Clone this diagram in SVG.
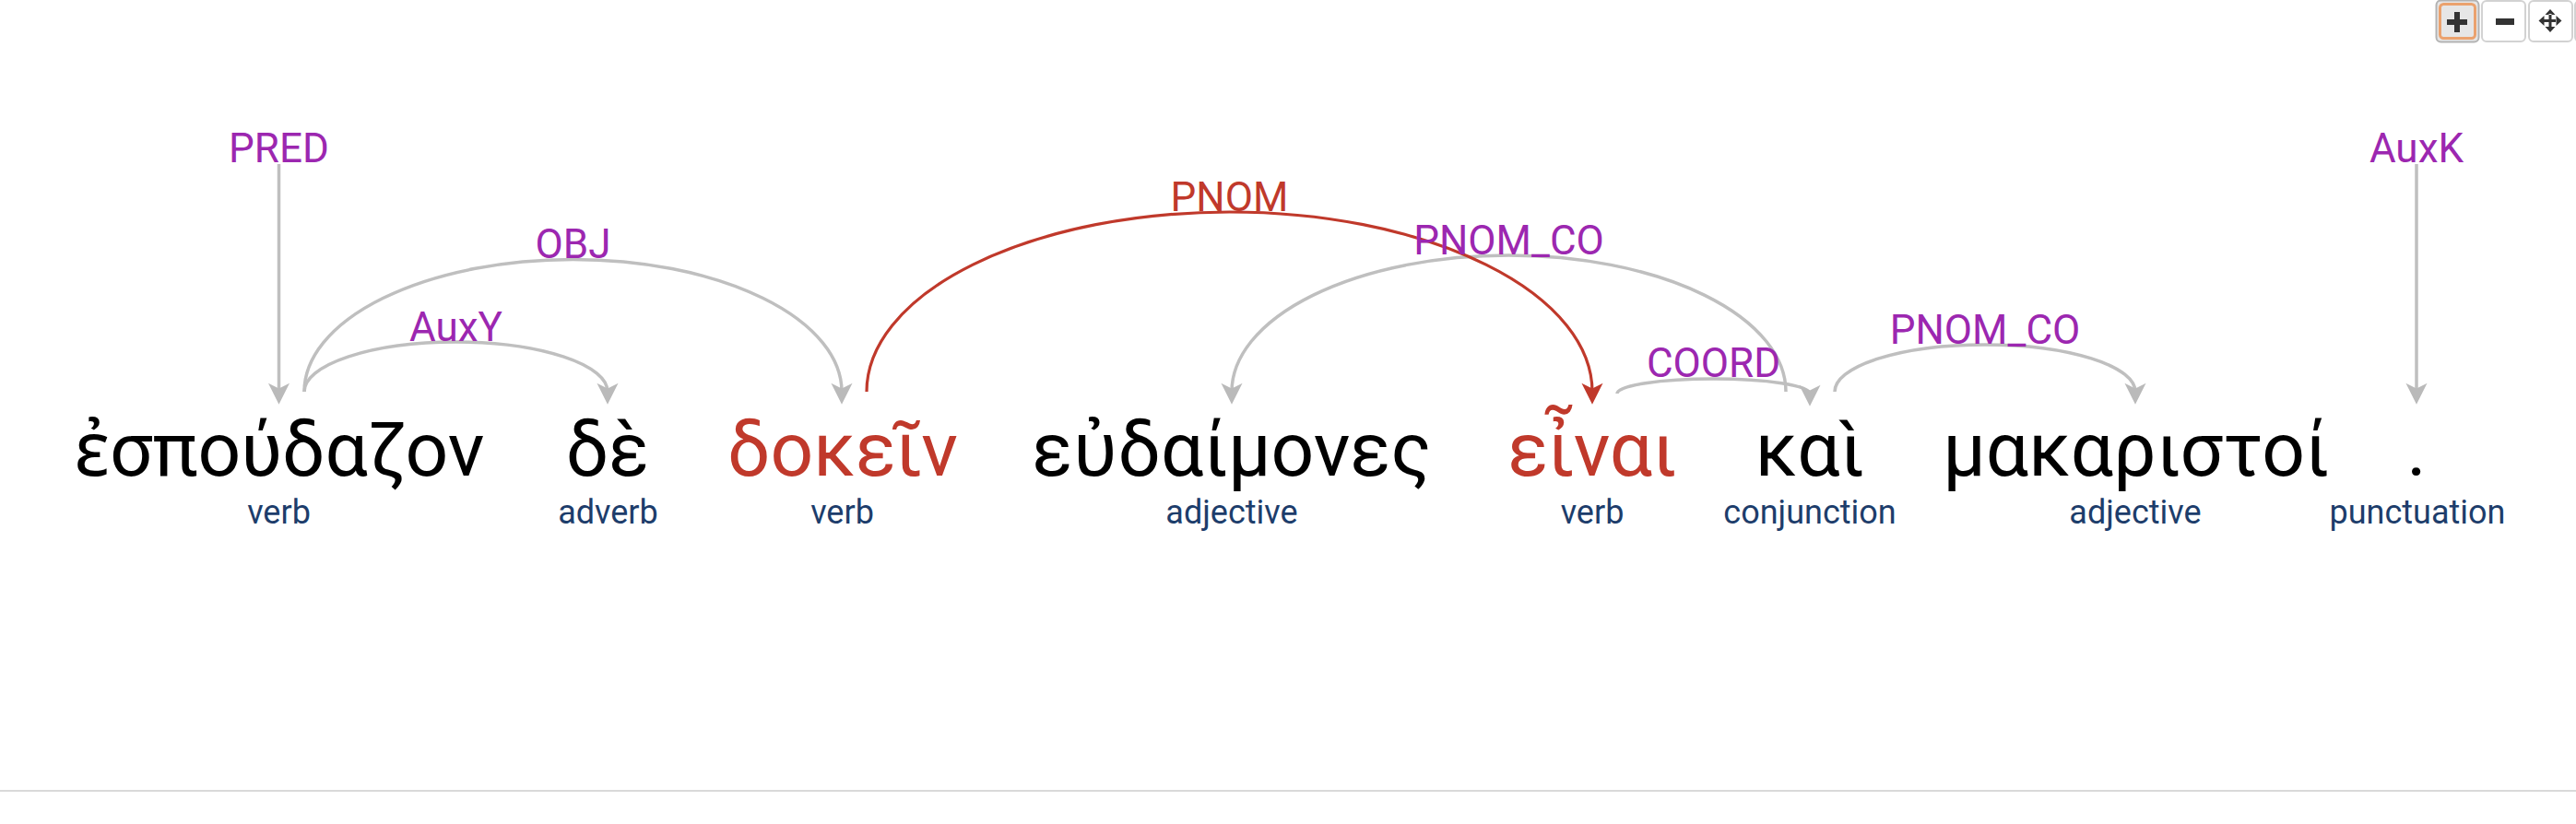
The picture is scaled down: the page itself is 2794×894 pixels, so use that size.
<svg xmlns="http://www.w3.org/2000/svg" width="2794" height="894" viewBox="0 0 2794 894">
<style>
.word{font-family:Roboto,"Noto Sans",sans-serif;font-size:82px;text-anchor:middle;fill:#000}
.word.hl{fill:#c0392b}
.pos{font-family:Roboto,"Noto Sans",sans-serif;font-size:36px;text-anchor:middle;fill:#1d3d6b}
.rel{font-family:Roboto,"Noto Sans",sans-serif;font-size:44px;text-anchor:middle;fill:#9c27b0}
.rel.hl{fill:#c0392b}
.edge{fill:none;stroke:#bfbfbf;stroke-width:3.5;marker-end:url(#ag)}
.edge.hl{stroke:#c0392b;stroke-width:3.2;marker-end:url(#ar)}
.btn{fill:#fff;stroke:#d2d2d2;stroke-width:2}
.ico{fill:#333}
</style>
<defs>
<marker id="ag" markerUnits="userSpaceOnUse" markerWidth="30" markerHeight="30" viewBox="-10 -12 26 24" refX="0" refY="0" orient="auto">
<path d="M12,0 L-8,-10 L-3,0 L-8,10 z" fill="#bababa"/>
</marker>
<marker id="ar" markerUnits="userSpaceOnUse" markerWidth="30" markerHeight="30" viewBox="-10 -12 26 24" refX="0" refY="0" orient="auto">
<path d="M12,0 L-8,-10 L-3,0 L-8,10 z" fill="#c0392b"/>
</marker>
</defs>
<rect width="2794" height="894" fill="#fff"/>
<g id="connectors">
<path class="edge" d="M302.5,178 L302.5,425"/>
<path class="edge" d="M2621,178 L2621,425"/>
<path class="edge" d="M330,425 A164.5,54 0 0 1 659,425"/>
<path class="edge" d="M330,425 A291.5,143.5 0 0 1 913,425"/>
<path class="edge" d="M1937,425 A300.5,148 0 0 0 1336,425"/>
<path class="edge" d="M1754,427 A104.5,16 0 0 1 1963,427"/>
<path class="edge" d="M1990,425 A163,51 0 0 1 2316,425"/>
<path class="edge hl" d="M940,425 A393.5,195 0 0 1 1727,425"/>
<text class="rel" x="302.5" y="176">PRED</text>
<text class="rel" x="2621" y="176">AuxK</text>
<text class="rel" x="494.5" y="370">AuxY</text>
<text class="rel" x="621.5" y="280">OBJ</text>
<text class="rel hl" x="1333.5" y="229">PNOM</text>
<text class="rel" x="1636.5" y="276">PNOM_CO</text>
<text class="rel" x="1858.5" y="409">COORD</text>
<text class="rel" x="2153" y="373">PNOM_CO</text>
</g>
<g id="w1"><text class="word" x="303" y="516">ἐσπούδαζον</text><text class="pos" x="302.5" y="568">verb</text></g>
<g id="w2"><text class="word" x="659" y="516">δὲ</text><text class="pos" x="659.5" y="568">adverb</text></g>
<g id="w3"><text class="word hl" x="914" y="516">δοκεῖν</text><text class="pos" x="913.5" y="568">verb</text></g>
<g id="w4"><text class="word" x="1336" y="516">εὐδαίμονες</text><text class="pos" x="1336" y="568">adjective</text></g>
<g id="w5"><text class="word hl" x="1727" y="516">εἶναι</text><text class="pos" x="1727" y="568">verb</text></g>
<g id="w6"><text class="word" x="1963" y="516">καὶ</text><text class="pos" x="1963" y="568">conjunction</text></g>
<g id="w7"><text class="word" x="2317" y="516">μακαριστοί</text><text class="pos" x="2316" y="568">adjective</text></g>
<g id="w8"><text class="word" x="2621" y="516">.</text><text class="pos" x="2622" y="568">punctuation</text></g>
<g id="toolbar">
<rect x="2642.5" y="0.5" width="46" height="45" rx="5" fill="#e6e6e6" stroke="#b3b3b3" stroke-width="2"/>
<rect x="2646.5" y="4.5" width="38" height="37" rx="4" fill="none" stroke="#eba26e" stroke-width="3"/>
<rect class="ico" x="2662" y="13" width="6" height="22"/>
<rect class="ico" x="2654" y="21" width="22" height="6"/>
<rect class="btn" x="2692" y="1" width="47" height="44" rx="5"/>
<rect class="ico" x="2707" y="20" width="20" height="7"/>
<rect class="btn" x="2743" y="1" width="47" height="44" rx="5"/>
<path class="ico" d="M2766,10 L2760.5,16 L2771.5,16 Z M2766,35 L2760.5,29 L2771.5,29 Z M2753.5,22.5 L2759.5,17 L2759.5,28 Z M2778.5,22.5 L2772.5,17 L2772.5,28 Z M2764.5,15 H2767.5 V30 H2764.5 Z M2759,21 H2773 V24 H2759 Z"/>
<rect class="btn" x="2793" y="1" width="47" height="44" rx="5"/>
</g>
<rect x="0" y="857" width="2794" height="2" fill="#d9d9d9"/>
</svg>
